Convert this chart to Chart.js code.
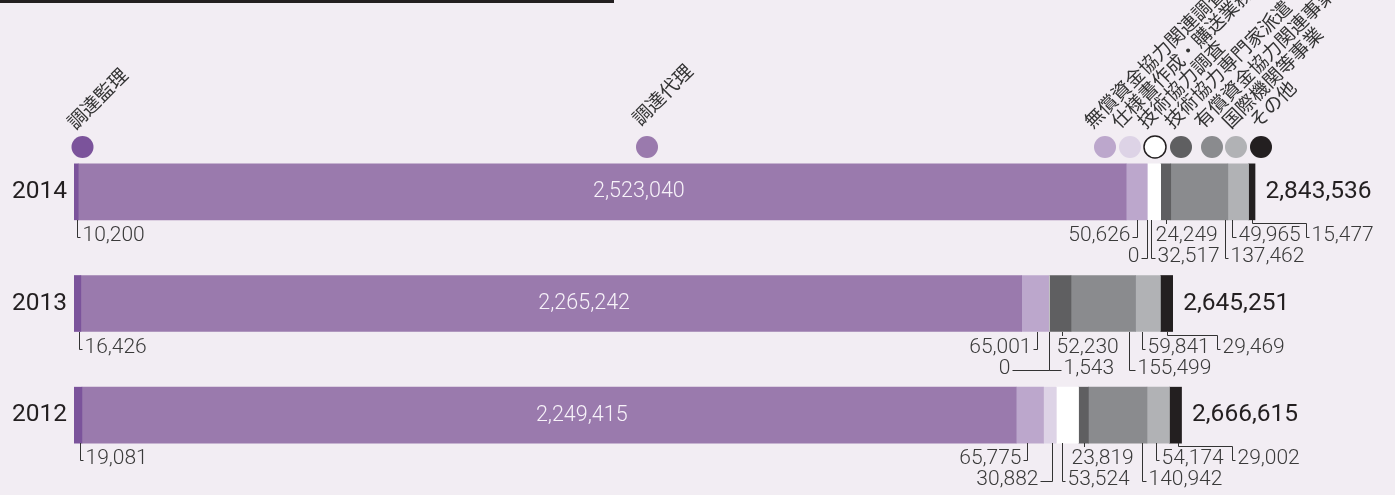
<!DOCTYPE html>
<html lang="ja">
<head>
<meta charset="utf-8">
<script src="https://cdn.jsdelivr.net/npm/chart.js@4"></script>
<style>
    html, body { margin: 0; padding: 0; background: #f2edf3; }
    #wrap { position: relative; width: 1395px; height: 495px; }
    #topbar { position: absolute; left: 0; top: 0; width: 614px; height: 3px; background: #231f20; }
</style>
</head>
<body>
<div id="wrap">
    <canvas id="chart"></canvas>
    <div id="topbar"></div>
</div>
<script>
/* ---- Data (千円) ---- */
const years = ['2014', '2013', '2012'];
const categories = ['調達監理', '調達代理', '無償資金協力関連調査', '仕様書作成・購送業務',
    '技術協力調査', '技術協力専門家派遣', '有償資金協力関連事業', '国際機関等事業', 'その他'];

const supervision     = [10200, 16426, 19081];
const agency          = [2523040, 2265242, 2249415];
const grantSurvey     = [50626, 65001, 65775];
const specWork        = [0, 0, 30882];
const techSurvey      = [32517, 1543, 53524];
const expertDispatch  = [24249, 52230, 23819];
const loanProjects    = [137462, 155499, 140942];
const intlOrgs        = [49965, 59841, 54174];
const others          = [15477, 29469, 29002];
const totals          = [2843536, 2645251, 2666615];

const colors = ['#7b539b', '#9a7aad', '#bca7cc', '#ddd3e6', '#ffffff',
    '#5f5f61', '#8a8b8e', '#b1b2b5', '#231f20'];

const seriesData = [supervision, agency, grantSurvey, specWork, techSurvey,
    expertDispatch, loanProjects, intlOrgs, others];

/* ---- Label layout: [row, position in segment, elbow dx, kind] ---- */
// kind A: down then across, B: jog right at bar edge, C: short tick
const leaderLayout = [
    [[1, 0.75, 3, 'A'], null, [1, 0.5, -5, 'A'], [2, 0.5, -6, 'A'], [2, 0.29, 4, 'A'],
     [1, 0.5, -11, 'C'], [2, 0.95, 3, 'A'], [1, 0.22, 4, 'A'], [1, 0.5, 54, 'B']],
    [[1, 0.75, 3, 'A'], null, [1, 0.56, -4, 'A'], [2, 0.5, -37, 'A'], [2, 0.5, 12, 'A'],
     [1, 0.58, -6, 'C'], [2, 0.9, 6, 'A'], [1, 0.27, 3, 'A'], [1, 0.53, 50, 'B']],
    [[1, 0.75, 3, 'A'], null, [1, 0.39, -4, 'A'], [2, 0.65, -12, 'A'], [2, 0.27, 3, 'A'],
     [1, 0.5, -13, 'C'], [2, 0.92, 4, 'A'], [1, 0.4, 3, 'A'], [1, 0.68, 54, 'B']]
];

// legend dots and the slanted names above them
const legendX = [82.5, 647, 1105, 1130, 1155, 1181, 1212, 1236, 1261];
const legendY = 147;
const nameX = [77, 642, 1094, 1121, 1147, 1174, 1204, 1232, 1259];
const nameY = [132, 128, 131, 131, 131, 131, 131, 131, 131];

const fmt = v => v.toLocaleString('en-US');

const overlay = {
    id: 'overlay',
    afterDatasetsDraw(chart) {
        const ctx = chart.ctx;
        ctx.save();

        // legend dots + names
        categories.forEach((name, k) => {
            ctx.beginPath();
            ctx.arc(legendX[k], legendY, 11, 0, Math.PI * 2);
            ctx.fillStyle = colors[k];
            ctx.fill();
            if (colors[k] === '#ffffff') {
                ctx.lineWidth = 1.5;
                ctx.strokeStyle = '#231f20';
                ctx.stroke();
            }
            ctx.save();
            ctx.translate(nameX[k], nameY[k]);
            ctx.rotate(-Math.PI / 4);
            ctx.font = '19px "Noto Sans CJK JP"';
            ctx.fillStyle = '#333';
            ctx.textAlign = 'left';
            ctx.textBaseline = 'ideographic';
            ctx.fillText(name, 0, 0);
            ctx.restore();
        });

        years.forEach((yr, i) => {
            const first = chart.getDatasetMeta(0).data[i];
            const last = chart.getDatasetMeta(seriesData.length - 1).data[i];
            const yc = first.y;
            const bottom = Math.round(first.y + first.height / 2);

            ctx.fillStyle = '#231f20';
            ctx.textBaseline = 'middle';
            ctx.font = '24.5px Roboto';
            ctx.textAlign = 'right';
            ctx.fillText(yr, 67, yc);
            ctx.textAlign = 'left';
            ctx.fillText(fmt(totals[i]), last.x + 10.5, yc);

            seriesData.forEach((arr, k) => {
                const bar = chart.getDatasetMeta(k).data[i];
                const x0 = Math.min(bar.base, bar.x), x1 = Math.max(bar.base, bar.x);
                const text = fmt(arr[i]);
                const lay = leaderLayout[i][k];

                if (!lay) {
                    ctx.font = '300 21.5px Roboto';
                    ctx.fillStyle = '#f7f2f9';
                    ctx.textAlign = 'center';
                    ctx.fillText(text, x0 + (x1 - x0) * 0.535, yc);
                    return;
                }

                const [row, frac, dx, kind] = lay;
                const lx = Math.round(x0 + (x1 - x0) * frac) + 0.5;
                const ty = bottom + (row === 1 ? 16 : 36.5);
                const ly = Math.round(ty) + 1.5;

                ctx.strokeStyle = '#333';
                ctx.lineWidth = 1;
                ctx.beginPath();
                ctx.moveTo(lx, bottom);
                let tx, align;
                if (kind === 'A') {
                    ctx.lineTo(lx, ly);
                    ctx.lineTo(lx + dx, ly);
                    tx = dx < 0 ? lx + dx - 2 : lx + dx + 2;
                    align = dx < 0 ? 'right' : 'left';
                } else if (kind === 'B') {
                    const jy = bottom + 3.5;
                    ctx.lineTo(lx, jy);
                    ctx.lineTo(lx + dx, jy);
                    ctx.lineTo(lx + dx, ly);
                    ctx.lineTo(lx + dx + 3, ly);
                    tx = lx + dx + 5;
                    align = 'left';
                } else {
                    ctx.lineTo(lx, bottom + 4);
                    tx = lx + dx;
                    align = 'left';
                }
                ctx.stroke();

                ctx.font = '300 21px Roboto';
                ctx.fillStyle = '#3a3a3a';
                ctx.textAlign = align;
                ctx.fillText(text, tx, ty);
            });
        });
        ctx.restore();
    }
};

const datasets = categories.map((name, k) => ({
    label: name,
    data: seriesData[k],
    backgroundColor: colors[k],
    borderWidth: 0,
    barThickness: 56
}));

new Chart(document.getElementById('chart'), {
    type: 'bar',
    data: { labels: years, datasets },
    options: {
        indexAxis: 'y',
        responsive: true,
        maintainAspectRatio: false,
        animation: false,
        layout: { padding: { left: 74, right: 75, top: 136, bottom: 24 } },
        scales: {
            x: { stacked: true, display: false, min: 0, max: 3000000 },
            y: { stacked: true, display: false }
        },
        plugins: {
            legend: { display: false },
            tooltip: { enabled: false }
        }
    },
    plugins: [overlay]
});
</script>
</body>
</html>
